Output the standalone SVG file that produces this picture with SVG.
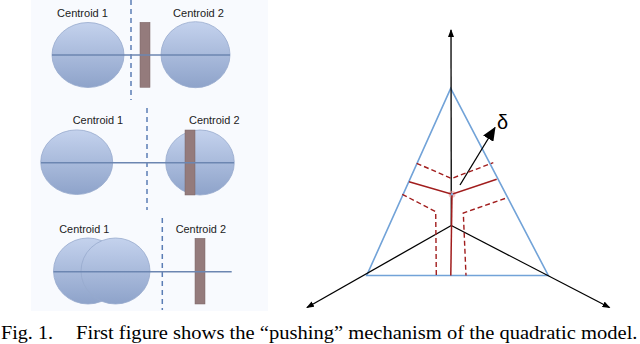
<svg xmlns="http://www.w3.org/2000/svg" width="640" height="344" viewBox="0 0 640 344">
<defs>
<linearGradient id="ball" x1="0" y1="0" x2="0" y2="1">
<stop offset="0" stop-color="#c4d2ed"/>
<stop offset="1" stop-color="#8ea3ca"/>
</linearGradient>
<marker id="ah" markerWidth="8" markerHeight="6" refX="7" refY="3" orient="auto" markerUnits="userSpaceOnUse">
<path d="M0,0 L8,3 L0,6 Z" fill="#000"/>
</marker>
<marker id="ahBig" markerWidth="14" markerHeight="12" refX="13" refY="6" orient="auto" markerUnits="userSpaceOnUse">
<path d="M0,0 L14,6 L0,12 Z" fill="#000"/>
</marker>
</defs>
<style>
.lbl{font-family:"Liberation Sans",Arial,sans-serif;font-size:11px;fill:#222}
.ball{fill:url(#ball);stroke:#97aacd;stroke-width:0.8}
.hline{stroke:#6c86b1;stroke-width:1.6}
.sep{stroke:#5b7db5;stroke-width:1.5;stroke-dasharray:5,4}
.bar{fill:#947b7c;stroke:#7a6465;stroke-width:0.5}
.ax{stroke:#000;stroke-width:1.3;fill:none}
.tri{fill:none;stroke:#72a3d8;stroke-width:1.6}
.red{stroke:#a11d1d;stroke-width:1.5;fill:none}
.redd{stroke:#a11d1d;stroke-width:1.4;fill:none;stroke-dasharray:5,3}
.cap{font-family:"Liberation Serif","Times New Roman",serif;font-size:18px;fill:#000}
</style>

<g id="left-panel">
<rect x="31" y="0" width="237" height="311" fill="#f8fafe"/>

<g id="row1">
<line class="sep" x1="131" y1="0" x2="131" y2="100"/>
<text class="lbl" x="57" y="17" textLength="51" lengthAdjust="spacingAndGlyphs">Centroid 1</text>
<text class="lbl" x="173" y="17" textLength="51" lengthAdjust="spacingAndGlyphs">Centroid 2</text>
<ellipse class="ball" cx="88" cy="55" rx="36" ry="32.5"/>
<ellipse class="ball" cx="195.5" cy="54.7" rx="34.5" ry="33"/>
<rect class="bar" x="140" y="22.3" width="10" height="65"/>
<line class="hline" x1="52" y1="55" x2="230" y2="55"/>
</g>

<g id="row2">
<line class="sep" x1="147" y1="108" x2="147" y2="210"/>
<text class="lbl" x="72.7" y="123.5" textLength="50.5" lengthAdjust="spacingAndGlyphs">Centroid 1</text>
<text class="lbl" x="189" y="123.5" textLength="50.5" lengthAdjust="spacingAndGlyphs">Centroid 2</text>
<ellipse class="ball" cx="76.7" cy="162.2" rx="36" ry="32.3"/>
<ellipse class="ball" cx="200" cy="162.5" rx="34.3" ry="32.5"/>
<rect class="bar" x="185" y="130" width="10" height="65"/>
<line class="hline" x1="41" y1="162.7" x2="234" y2="162.7"/>
</g>

<g id="row3">
<line class="sep" x1="162.3" y1="218" x2="162.3" y2="310"/>
<text class="lbl" x="59.3" y="233" textLength="50" lengthAdjust="spacingAndGlyphs">Centroid 1</text>
<text class="lbl" x="175.7" y="233" textLength="50.3" lengthAdjust="spacingAndGlyphs">Centroid 2</text>
<ellipse class="ball" cx="88" cy="271" rx="34.5" ry="33"/>
<ellipse class="ball" cx="115.5" cy="271" rx="34.5" ry="33"/>
<rect class="bar" x="195" y="238.3" width="10" height="65.7"/>
<line class="hline" x1="53.5" y1="271.7" x2="231.7" y2="271.7"/>
</g>
</g>

<g id="simplex">
<polygon id="triangle" class="tri" points="450.7,88.3 366.7,275.5 548.3,275.5"/>
</g>

<g id="connectors">
<line class="ax" x1="451.3" y1="225.5" x2="451" y2="30" marker-end="url(#ah)"/>
<line class="ax" x1="451.3" y1="225.5" x2="307" y2="307.5" marker-end="url(#ah)"/>
<line class="ax" x1="451.3" y1="225.5" x2="609.5" y2="307.5" marker-end="url(#ah)"/>
<line class="ax" x1="460" y1="185" x2="495" y2="127.5" stroke-width="1.6" marker-end="url(#ahBig)"/>
</g>

<g id="regions">
<circle cx="452" cy="194.3" r="3.5" fill="#e8a0a0" opacity="0.6"/>
<polyline class="red" points="409,181.7 452,194.3 496.7,179.3"/>
<line class="red" x1="452" y1="194.3" x2="450.8" y2="275.5"/>
<circle cx="452" cy="194.3" r="1.2" fill="#7fb0e0"/>
<polyline class="redd" points="416.7,163.3 451.5,178.5 493.3,162.7"/>
<polyline class="redd" points="402.3,194.3 435.7,211.7 436.3,275.5"/>
<polyline class="redd" points="505,198.5 463.3,213 466,275.5"/>
</g>

<g id="delta-label">
<text x="497" y="129" font-family="'Liberation Sans',Arial,sans-serif" font-size="20" fill="#000">δ</text>
</g>

<g id="caption">
<text class="cap" x="1" y="339" textLength="52" lengthAdjust="spacingAndGlyphs">Fig. 1.</text>
<text class="cap" x="76" y="339" textLength="561.5" lengthAdjust="spacingAndGlyphs">First figure shows the “pushing” mechanism of the quadratic model.</text>
</g>
</svg>
